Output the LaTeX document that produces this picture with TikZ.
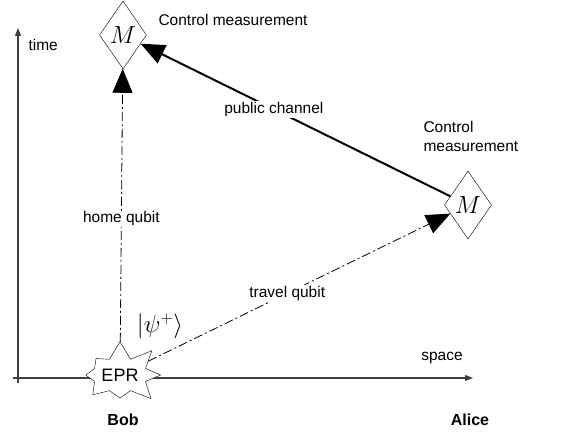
\documentclass[tikz,border=0pt]{standalone}
\usepackage{fontspec}
\setmainfont{Liberation Sans}
\usetikzlibrary{shapes.geometric,shapes.symbols,arrows.meta}
\begin{document}
\begin{tikzpicture}[x=1pt,y=-1pt,font=\fontsize{15.5}{19}\selectfont,
    meas/.style={draw,diamond,inner sep=0pt,minimum width=47pt,minimum height=68pt,font=\fontsize{24}{26}\selectfont},
    axis/.style={line width=1.2pt,draw=black!75,-{Triangle[length=8pt,width=6pt]}},
    big/.style={-{Triangle[length=24pt,width=20pt]}},
    qubit/.style={big,line width=0.8pt,dash pattern=on 9pt off 3pt on 2pt off 3pt},
    lbl/.style={fill=white,inner sep=1pt}]
    \useasboundingbox (0,0) rectangle (571,438);
    \coordinate (o1) at (18,383); \coordinate (t1) at (18,28); \coordinate (o2) at (13,378); \coordinate (s1) at (473,378);
    \draw[axis] (o1) to (t1); \draw[axis] (o2) to (s1);
    \node[anchor=west] (time) at (25,45) {time}; \node (space) at (442,358) {space};

    \node[meas] (M1) at (123,35) {$M$}; \node[anchor=west] (cm1) at (155,20) {Control measurement};
    \node[meas] (M2) at (468,205) {$M$}; \node[anchor=west,align=left] (cm2) at (420,136) {Control\\measurement};
    \node[draw,starburst,fill=white,starburst points=8,starburst point height=18pt,random starburst=7,inner sep=1pt,minimum width=80pt,minimum height=70pt,font=\fontsize{18}{20}\selectfont] (EPR) at (120,375) {EPR};
    \node (psi) at (160,326) {\fontsize{24}{26}\selectfont$|\psi^+\rangle$};
    \node[font=\fontsize{16}{19}\selectfont\bfseries] (bob) at (123,420) {Bob}; \node[font=\fontsize{16}{19}\selectfont\bfseries] (alice) at (470,420) {Alice};

    \draw[qubit] (EPR) to node[lbl,pos=0.45] (home) {home qubit} (M1);
    \draw[qubit] (EPR) to node[lbl,pos=0.46] (travel) {travel qubit} (M2);
    \draw[big,line width=2pt] (M2) to node[lbl,pos=0.57] (pub) {public channel} (M1);
\end{tikzpicture}
\end{document}
